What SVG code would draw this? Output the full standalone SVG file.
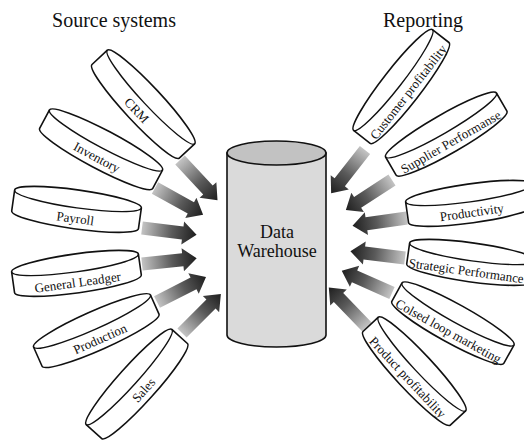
<svg xmlns="http://www.w3.org/2000/svg" xmlns:xlink="http://www.w3.org/1999/xlink" width="524" height="441" viewBox="0 0 524 441">
<style>
.title{font-family:"Liberation Serif","Times New Roman",serif;font-size:20px;fill:#111;text-anchor:middle}
.dw{font-family:"Liberation Serif","Times New Roman",serif;font-size:18px;fill:#111;text-anchor:middle}
.lbl{font-family:"Liberation Serif","Times New Roman",serif;font-size:13px;fill:#111;text-anchor:middle}
.disk{fill:#fff;stroke:#111;stroke-width:1.6;stroke-linejoin:round}
.rim{fill:none;stroke:#111;stroke-width:1.4}
</style>
<defs>
<linearGradient id="ag" x1="0" y1="0" x2="1" y2="0">
<stop offset="0" stop-color="#c4c4c4"/>
<stop offset="0.55" stop-color="#5a5a5a"/>
<stop offset="1" stop-color="#1e1e1e"/>
</linearGradient>
<path id="arrow" d="M0,-6.5 L41,-6.5 L41,-11.5 L55,0 L41,11.5 L41,6.5 L0,6.5 Z" fill="url(#ag)"/>
<g id="diskshape">
<path class="disk" d="M-64,0 A64,9 0 0 1 64,0 L64,21 A64,9 0 0 1 -64,21 Z"/>
<path class="rim" d="M-64,0 A64,9 0 0 0 64,0"/>
</g>
</defs>
<rect width="524" height="441" fill="#fff"/>
<text class="title" x="114" y="27">Source systems</text>
<text class="title" x="423" y="27">Reporting</text>
<g id="connectors">
<use xlink:href="#arrow" transform="translate(180,160) rotate(47)"/>
<use xlink:href="#arrow" transform="translate(155,188) rotate(29)"/>
<use xlink:href="#arrow" transform="translate(142,228) rotate(7)"/>
<use xlink:href="#arrow" transform="translate(142,264) rotate(-6)"/>
<use xlink:href="#arrow" transform="translate(157,302) rotate(-27)"/>
<use xlink:href="#arrow" transform="translate(182,333) rotate(-45)"/>
<use xlink:href="#arrow" transform="translate(365,150) rotate(128)"/>
<use xlink:href="#arrow" transform="translate(392,180) rotate(147)"/>
<use xlink:href="#arrow" transform="translate(407,218) rotate(172)"/>
<use xlink:href="#arrow" transform="translate(405,258) rotate(187)"/>
<use xlink:href="#arrow" transform="translate(392,293) rotate(204)"/>
<use xlink:href="#arrow" transform="translate(367,327) rotate(226)"/>
</g>
<g id="warehouse">
<path d="M227,153 L227,335 A49.5,12 0 0 0 326,335 L326,153 Z" fill="#dadada" stroke="#111" stroke-width="1.6"/>
<ellipse cx="276.5" cy="153" rx="49.5" ry="12" fill="#c2c2c2" stroke="#111" stroke-width="1.6"/>
<text class="dw" x="277" y="238">Data</text>
<text class="dw" x="277" y="257">Warehouse</text>
</g>
<g id="crm" transform="translate(151,97) rotate(47)"><use xlink:href="#diskshape"/><text class="lbl" x="0" y="24">CRM</text></g>
<g id="inventory" transform="translate(106,140) rotate(28)"><use xlink:href="#diskshape"/><text class="lbl" x="0" y="24">Inventory</text></g>
<g id="payroll" transform="translate(78,199) rotate(8)"><use xlink:href="#diskshape"/><text class="lbl" x="0" y="24">Payroll</text></g>
<g id="general-ledger" transform="translate(75,263) rotate(-8)"><use xlink:href="#diskshape"/><text class="lbl" x="0" y="24">General Leadger</text></g>
<g id="production" transform="translate(92,321) rotate(-24)"><use xlink:href="#diskshape"/><text class="lbl" x="0" y="24">Production</text></g>
<g id="sales" transform="translate(129,377) rotate(-48)"><use xlink:href="#diskshape"/><text class="lbl" x="0" y="24">Sales</text></g>
<g id="customer-profitability" transform="translate(393,80) rotate(-52)"><use xlink:href="#diskshape"/><text class="lbl" x="0" y="24" font-size="12.5">Customer profitability</text></g>
<g id="supplier-performance" transform="translate(441,125) rotate(-30)"><use xlink:href="#diskshape"/><text class="lbl" x="0" y="24">Supplier Performanse</text></g>
<g id="productivity" transform="translate(469,193) rotate(-8)"><use xlink:href="#diskshape"/><text class="lbl" x="0" y="24">Productivity</text></g>
<g id="strategic-performance" transform="translate(473,252) rotate(8)"><use xlink:href="#diskshape"/><text class="lbl" x="-4" y="24">Strategic Performance</text></g>
<g id="closed-loop-marketing" transform="translate(458,314) rotate(29)"><use xlink:href="#diskshape"/><text class="lbl" x="0" y="24">Colsed loop marketing</text></g>
<g id="product-profitability" transform="translate(422,364) rotate(47)"><use xlink:href="#diskshape"/><text class="lbl" x="0" y="24">Product profitability</text></g>
</svg>
